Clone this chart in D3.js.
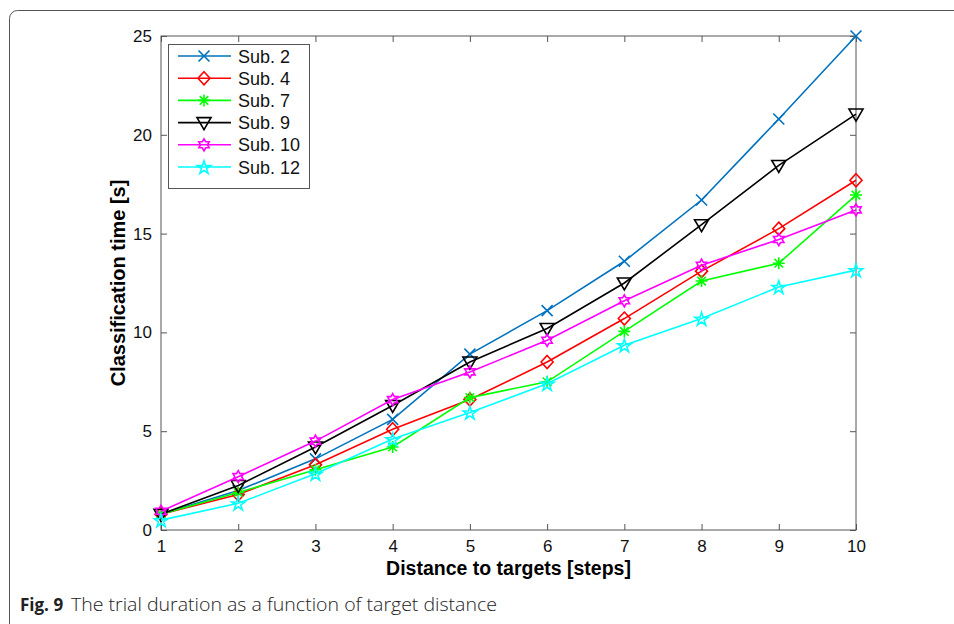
<!DOCTYPE html>
<html>
<head>
<meta charset="utf-8">
<script src="https://cdn.jsdelivr.net/npm/d3@7"></script>
<style>
  body { margin: 0; background: #fff; }
  svg { display: block; }
</style>
</head>
<body>
<div id="chart"></div>
<script>
// ---- data ----
const distances = [1, 2, 3, 4, 5, 6, 7, 8, 9, 10];
const subjects = ["Sub. 2", "Sub. 4", "Sub. 7", "Sub. 9", "Sub. 10", "Sub. 12"];
const sub2  = [0.8, 2.0, 3.6, 5.6, 8.9, 11.1, 13.6, 16.7, 20.8, 25.0];
const sub4  = [0.8, 1.8, 3.3, 5.1, 6.6, 8.5, 10.7, 13.1, 15.25, 17.7];
const sub7  = [0.8, 1.9, 3.05, 4.2, 6.7, 7.5, 10.05, 12.6, 13.5, 16.95];
const sub9  = [0.8, 2.25, 4.2, 6.3, 8.5, 10.2, 12.5, 15.45, 18.45, 21.05];
const sub10 = [0.95, 2.7, 4.5, 6.6, 8.0, 9.6, 11.6, 13.4, 14.7, 16.2];
const sub12 = [0.5, 1.35, 2.85, 4.6, 5.95, 7.4, 9.35, 10.7, 12.3, 13.15];
const yTicks = [0, 5, 10, 15, 20, 25];

const seriesValues = [sub2, sub4, sub7, sub9, sub10, sub12];
const colors = ["#0072BD", "#ff0000", "#00ff00", "#000000", "#ff00ff", "#00ffff"];
const markers = ["x", "diamond", "asterisk", "triangleDown", "hexagram", "pentagram"];

// ---- layout ----
const svgW = 954, svgH = 624;
const plot = { left: 161, right: 856, top: 36, bottom: 530 };

const svg = d3.select("#chart").append("svg")
  .attr("width", svgW)
  .attr("height", svgH);

// figure frame (rounded, runs off the right and bottom)
svg.append("rect")
  .attr("x", 9.5).attr("y", 10.5)
  .attr("width", 1000).attr("height", 700)
  .attr("rx", 8)
  .attr("fill", "none")
  .attr("stroke", "#555")
  .attr("stroke-width", 1);

const x = d3.scaleLinear().domain([1, 10]).range([plot.left, plot.right]);
const y = d3.scaleLinear().domain([0, 25]).range([plot.bottom, plot.top]);

// marker shapes, roughly like MATLAB's
function markerPath(type) {
  const p = d3.path();
  if (type === "x") {
    const s = 5.5;
    p.moveTo(-s, -s); p.lineTo(s, s);
    p.moveTo(-s, s); p.lineTo(s, -s);
  } else if (type === "diamond") {
    p.moveTo(0, -6.5); p.lineTo(6, 0); p.lineTo(0, 6.5); p.lineTo(-6, 0); p.closePath();
  } else if (type === "asterisk") {
    const s = 6, d = 4.3;
    p.moveTo(0, -s); p.lineTo(0, s);
    p.moveTo(-s, 0); p.lineTo(s, 0);
    p.moveTo(-d, -d); p.lineTo(d, d);
    p.moveTo(-d, d); p.lineTo(d, -d);
  } else if (type === "triangleDown") {
    p.moveTo(-7, -5); p.lineTo(7, -5); p.lineTo(0, 7); p.closePath();
  } else if (type === "hexagram") {
    const R = 6, r = R / Math.sqrt(3);
    for (let i = 0; i < 12; i++) {
      const a = -Math.PI / 2 + i * Math.PI / 6;
      const rr = i % 2 === 0 ? R : r;
      const px = rr * Math.cos(a), py = rr * Math.sin(a);
      if (i === 0) p.moveTo(px, py); else p.lineTo(px, py);
    }
    p.closePath();
  } else if (type === "pentagram") {
    const R = 7, r = R * 0.382;
    for (let i = 0; i < 10; i++) {
      const a = -Math.PI / 2 + i * Math.PI / 5;
      const rr = i % 2 === 0 ? R : r;
      const px = rr * Math.cos(a), py = rr * Math.sin(a) + 0.8;
      if (i === 0) p.moveTo(px, py); else p.lineTo(px, py);
    }
    p.closePath();
  }
  return p.toString();
}

// axes (MATLAB style: box on, ticks inward on all sides)
const tickLen = 6;
const axisColor = "#555";
const fontMain = "'Liberation Sans', Arial, Helvetica, sans-serif";

svg.append("rect")
  .attr("x", plot.left).attr("y", plot.top)
  .attr("width", plot.right - plot.left).attr("height", plot.bottom - plot.top)
  .attr("fill", "none").attr("stroke", axisColor).attr("stroke-width", 1);

const xAxisBottom = d3.axisBottom(x).tickValues(distances).tickSizeInner(-tickLen).tickSizeOuter(0).tickPadding(10);
const xAxisTop = d3.axisTop(x).tickValues(distances).tickSizeInner(-tickLen).tickSizeOuter(0).tickFormat("");
const yAxisLeft = d3.axisLeft(y).tickValues(yTicks).tickSizeInner(-tickLen).tickSizeOuter(0).tickPadding(9);
const yAxisRight = d3.axisRight(y).tickValues(yTicks).tickSizeInner(-tickLen).tickSizeOuter(0).tickFormat("");

function styleAxis(g) {
  g.select(".domain").remove();
  g.selectAll("line").attr("stroke", axisColor);
  g.selectAll("text")
    .attr("fill", "#111")
    .style("font-family", fontMain)
    .style("font-size", "17px");
}

svg.append("g").attr("transform", `translate(0,${plot.bottom})`).call(xAxisBottom).call(styleAxis);
svg.append("g").attr("transform", `translate(0,${plot.top})`).call(xAxisTop).call(styleAxis);
svg.append("g").attr("transform", `translate(${plot.left},0)`).call(yAxisLeft).call(styleAxis);
svg.append("g").attr("transform", `translate(${plot.right},0)`).call(yAxisRight).call(styleAxis);

// axis titles
svg.append("text")
  .attr("x", (plot.left + plot.right) / 2)
  .attr("y", 575)
  .attr("text-anchor", "middle")
  .style("font-family", fontMain)
  .style("font-size", "19.5px")
  .style("font-weight", "bold")
  .text("Distance to targets [steps]");

svg.append("text")
  .attr("transform", `translate(125,${(plot.top + plot.bottom) / 2}) rotate(-90)`)
  .attr("text-anchor", "middle")
  .style("font-family", fontMain)
  .style("font-size", "20px")
  .style("font-weight", "bold")
  .text("Classification time [s]");

// series
const line = d3.line()
  .x((d, i) => x(distances[i]))
  .y(d => y(d));

const seriesG = svg.append("g");
seriesValues.forEach((vals, k) => {
  const g = seriesG.append("g");
  g.append("path")
    .datum(vals)
    .attr("d", line)
    .attr("fill", "none")
    .attr("stroke", colors[k])
    .attr("stroke-width", 1.6);
  g.selectAll("path.marker")
    .data(vals)
    .enter()
    .append("path")
    .attr("class", "marker")
    .attr("transform", (d, i) => `translate(${x(distances[i])},${y(d)})`)
    .attr("d", markerPath(markers[k]))
    .attr("fill", "none")
    .attr("stroke", colors[k])
    .attr("stroke-width", 1.6);
});

// legend
const legend = svg.append("g").attr("transform", "translate(168,44)");
legend.append("rect")
  .attr("x", 0.5).attr("y", 0.5)
  .attr("width", 141).attr("height", 144)
  .attr("fill", "#fff")
  .attr("stroke", axisColor)
  .attr("stroke-width", 1);

subjects.forEach((name, k) => {
  const ly = 12 + k * 22.2;
  legend.append("line")
    .attr("x1", 10).attr("x2", 63)
    .attr("y1", ly).attr("y2", ly)
    .attr("stroke", colors[k]).attr("stroke-width", 1.6);
  legend.append("path")
    .attr("transform", `translate(36,${ly})`)
    .attr("d", markerPath(markers[k]))
    .attr("fill", "none")
    .attr("stroke", colors[k])
    .attr("stroke-width", 1.6);
  legend.append("text")
    .attr("x", 70).attr("y", ly + 6.5)
    .style("font-family", fontMain)
    .style("font-size", "18px")
    .attr("fill", "#111")
    .text(name);
});

// caption
svg.append("text")
  .attr("x", 20).attr("y", 611)
  .style("font-family", "'Open Sans', 'Noto Sans', sans-serif")
  .style("font-size", "17px")
  .style("font-weight", "bold")
  .attr("fill", "#222")
  .text("Fig. 9");
svg.append("text")
  .attr("x", 71).attr("y", 611)
  .style("font-family", "'Open Sans', 'Noto Sans', sans-serif")
  .style("font-size", "19px")
  .style("font-weight", "300")
  .attr("fill", "#222")
  .attr("textLength", 426).attr("lengthAdjust", "spacingAndGlyphs")
  .text("The trial duration as a function of target distance");
</script>
</body>
</html>
